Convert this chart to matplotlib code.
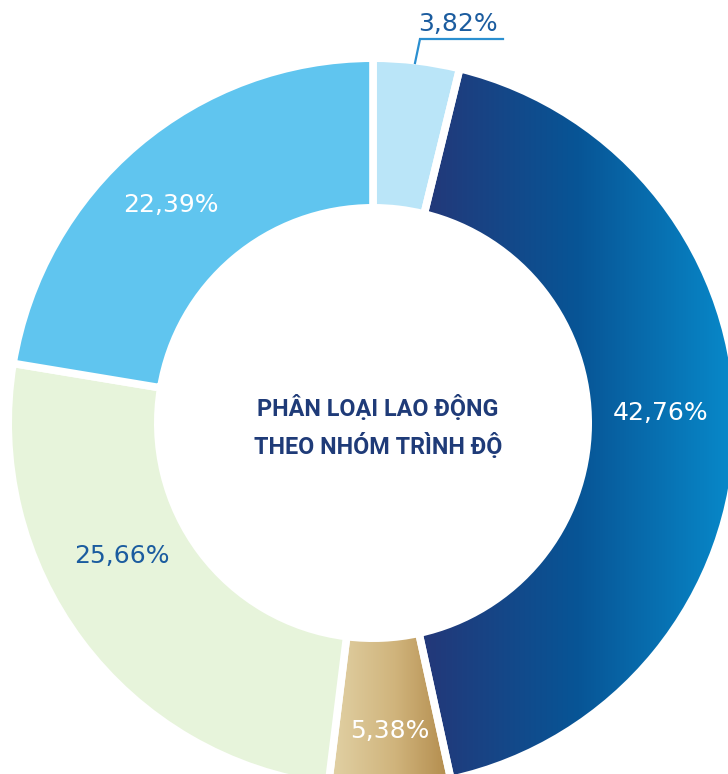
import numpy as np
import matplotlib
matplotlib.use("Agg")
import matplotlib.pyplot as plt
from matplotlib.colors import LinearSegmentedColormap

# share of workforce by qualification group (%)
shares = [3.82, 42.76, 5.38, 25.66, 22.39]
colors = ["#bae5f8", "none", "none", "#e7f4db", "#60c5ef"]
label_colors = ["#1b5c9f", "white", "white", "#1b5c9f", "white"]
label_xy = [(458, 750), (661, 361), (390, 43), (122, 218), (171, 569)]
title = "PHÂN LOẠI LAO ĐỘNG\nTHEO NHÓM TRÌNH ĐỘ"

W, H = 728, 774
cx, cy = 373, H - 423
R, r_in = 361, 219
gap = 5.5  # white separator width in points

fig = plt.figure(figsize=(W / 100, H / 100), dpi=100)
ax = fig.add_axes([0, 0, 1, 1])

pad = gap / 72 * 100 / 2
wedges, _ = ax.pie(shares, colors=colors, startangle=90, counterclock=False,
                   center=(cx, cy), radius=R + pad,
                   wedgeprops=dict(width=R - r_in + 2 * pad, edgecolor="white",
                                   linewidth=gap, zorder=3))

# horizontal gradients for the two highlighted segments
blue = LinearSegmentedColormap.from_list("blue", ["#22397a", "#075596", "#0887c8"])
gold = LinearSegmentedColormap.from_list("gold", ["#e0cfa2", "#d0b47c", "#b08848"])
for idx, cmap, x0, x1 in [(1, blue, 430, 728), (2, gold, 335, 455)]:
    xs = np.linspace(0, W, 800)
    grad = np.clip((xs - x0) / (x1 - x0), 0, 1)[None, :]
    im = ax.imshow(grad, cmap=cmap, extent=(0, W, 0, H), origin="lower",
                   aspect="auto", zorder=2, interpolation="bilinear")
    im.set_clip_path(wedges[idx])

for val, (tx, ty), c in zip(shares, label_xy, label_colors):
    ax.text(tx, ty, f"{val:.2f}%".replace(".", ","), color=c, fontsize=18,
            family="DejaVu Sans", ha="center", va="center", zorder=5)

# leader line for the smallest segment
ax.plot([415, 420, 503], [H - 63, H - 39, H - 39], color="#2a8fd0", lw=1.6,
        solid_joinstyle="miter", zorder=4)

ax.text(cx + 5, cy - 4, title, color="#1f3b78", fontsize=16.8, fontweight="bold",
        family="Roboto", ha="center", va="center", linespacing=1.6, zorder=5)

ax.set_xlim(0, W)
ax.set_ylim(0, H)
ax.set_aspect("equal")
ax.axis("off")
fig.savefig("out.png", dpi=100)
